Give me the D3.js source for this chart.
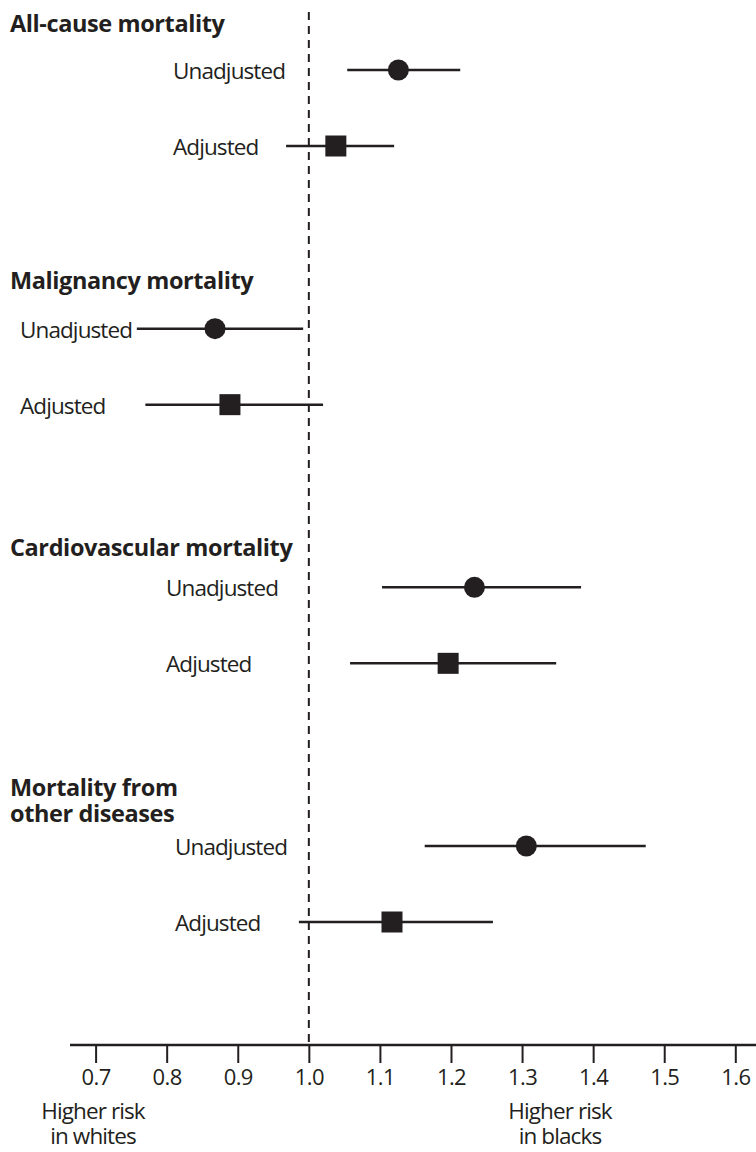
<!DOCTYPE html>
<html>
<head>
<meta charset="utf-8">
<script src="https://cdn.jsdelivr.net/npm/d3@7"></script>
<style>
  body { margin: 0; background: #fff; }
  text { font-family: "Open Sans", sans-serif; fill: #231f20; }
  .title { font-weight: 700; font-size: 23.5px; letter-spacing: -0.4px; }
  .rowLabel { font-size: 22.5px; letter-spacing: -0.9px; }
  .tick text { font-size: 22px; letter-spacing: -0.6px; }
</style>
</head>
<body>
<div id="chart"></div>
<script>
// data (hazard ratios, blacks vs whites)
const groups = ["All-cause mortality", "Malignancy mortality", "Cardiovascular mortality", "Mortality from|other diseases"];
const unadjEst  = [1.126, 0.868, 1.233, 1.306];
const unadjLow  = [1.054, 0.758, 1.103, 1.163];
const unadjHigh = [1.213, 0.992, 1.383, 1.474];
const adjEst    = [1.038, 0.889, 1.196, 1.117];
const adjLow    = [0.968, 0.770, 1.058, 0.986];
const adjHigh   = [1.120, 1.020, 1.348, 1.259];
const tickValues = [0.7, 0.8, 0.9, 1.0, 1.1, 1.2, 1.3, 1.4, 1.5, 1.6];

// layout bits
const labelX = [173, 20, 166, 175];
const titleDy = [-38, -40, -31, -50];

const width = 756, height = 1152;
const axisY = 1045;

const svg = d3.select("#chart")
    .append("svg")
    .attr("width", width)
    .attr("height", height);

const xScale = d3.scaleLinear()
    .domain([0.7, 1.6])
    .range([95.6, 735.3]);

const yGroup = d3.scaleLinear()
    .domain([0, 3])
    .range([70, 846]);
const adjOffset = 76;

// rows
const rows = [];
groups.forEach(function(g, i) {
    rows.push({ g: i, kind: "Unadjusted", est: unadjEst[i], lo: unadjLow[i], hi: unadjHigh[i], y: yGroup(i) });
    rows.push({ g: i, kind: "Adjusted", est: adjEst[i], lo: adjLow[i], hi: adjHigh[i], y: yGroup(i) + adjOffset });
});

// reference line at 1.0
svg.append("line")
    .attr("x1", xScale(1)).attr("x2", xScale(1))
    .attr("y1", 12).attr("y2", axisY)
    .attr("stroke", "#231f20")
    .attr("stroke-width", 2)
    .attr("stroke-dasharray", "8,6");

// axis
const xAxis = svg.append("g")
    .attr("class", "axis")
    .attr("transform", `translate(0,${axisY})`)
    .call(d3.axisBottom(xScale).tickValues(tickValues).tickFormat(d3.format(".1f")).tickSize(18).tickPadding(6));
xAxis.select(".domain").remove();
xAxis.selectAll(".tick line").attr("stroke", "#231f20").attr("stroke-width", 2);
xAxis.selectAll(".tick text").attr("fill", "#231f20").attr("font-family", null).attr("font-size", null);
svg.append("line")
    .attr("x1", 70).attr("x2", width)
    .attr("y1", axisY).attr("y2", axisY)
    .attr("stroke", "#231f20")
    .attr("stroke-width", 2.5);

// group titles, one text per line
groups.forEach(function(g, i) {
    g.split("|").forEach(function(part, k) {
        svg.append("text")
            .attr("class", "title")
            .attr("x", 10)
            .attr("y", yGroup(i) + titleDy[i] + k * 26)
            .text(part);
    });
});

// row labels
svg.selectAll(".rowLabel")
    .data(rows)
    .enter()
    .append("text")
        .attr("class", "rowLabel")
        .attr("x", function(d) { return labelX[d.g]; })
        .attr("y", function(d) { return d.y + 9; })
        .text(function(d) { return d.kind; });

// confidence intervals
svg.selectAll(".ci")
    .data(rows)
    .enter()
    .append("line")
        .attr("class", "ci")
        .attr("x1", function(d) { return xScale(d.lo); })
        .attr("x2", function(d) { return xScale(d.hi); })
        .attr("y1", function(d) { return d.y; })
        .attr("y2", function(d) { return d.y; })
        .attr("stroke", "#231f20")
        .attr("stroke-width", 2.5);

// point estimates
svg.selectAll(".dot")
    .data(rows.filter(function(d) { return d.kind === "Unadjusted"; }))
    .enter()
    .append("circle")
        .attr("class", "dot")
        .attr("cx", function(d) { return xScale(d.est); })
        .attr("cy", function(d) { return d.y; })
        .attr("r", 10.5)
        .attr("fill", "#231f20");

svg.selectAll(".sq")
    .data(rows.filter(function(d) { return d.kind === "Adjusted"; }))
    .enter()
    .append("rect")
        .attr("class", "sq")
        .attr("x", function(d) { return xScale(d.est) - 10.5; })
        .attr("y", function(d) { return d.y - 10.5; })
        .attr("width", 21)
        .attr("height", 21)
        .attr("fill", "#231f20");

// bottom notes
const notes = [
    { x: 93, lines: ["Higher risk", "in whites"] },
    { x: 560, lines: ["Higher risk", "in blacks"] }
];
notes.forEach(function(n) {
    n.lines.forEach(function(l, k) {
        svg.append("text")
            .attr("class", "note")
            .attr("text-anchor", "middle")
            .attr("x", n.x)
            .attr("y", 1119 + k * 25)
            .style("font-size", "22.5px")
            .style("letter-spacing", "-0.9px")
            .text(l);
    });
});
</script>
</body>
</html>
